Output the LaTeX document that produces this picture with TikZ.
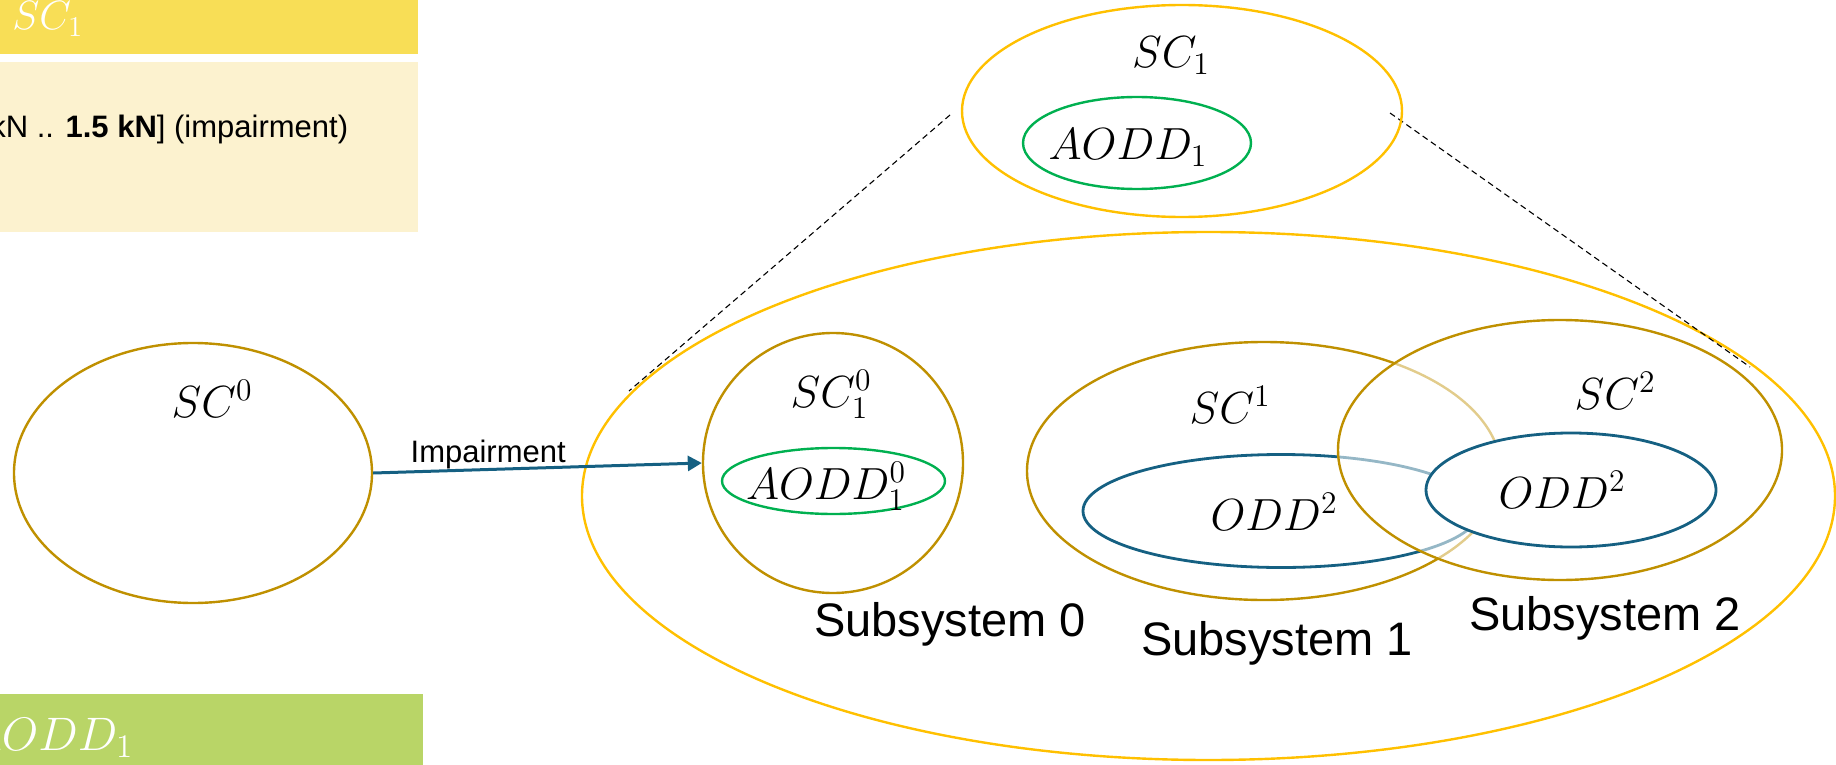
\RequirePackage{fix-cm}
\documentclass[tikz,border=0pt]{standalone}
\usepackage[no-math]{fontspec}
\newfontfamily\arialf{Liberation Sans}
\usetikzlibrary{shapes.geometric,arrows.meta}
\definecolor{gold}{HTML}{BF9000}
\definecolor{amber}{HTML}{FFC000}
\definecolor{odgreen}{HTML}{00B050}
\definecolor{odblue}{HTML}{156082}
\definecolor{hdryellow}{HTML}{F8DE56}
\definecolor{lightyellow}{HTML}{FCF2CF}
\definecolor{boxgreen}{HTML}{B9D567}
\tikzset{
  ell/.style={ellipse, draw, inner sep=0pt, line width=1.2pt},
  goldell/.style={ell, draw=gold},
  amberell/.style={ell, draw=amber},
  greenell/.style={ell, draw=odgreen},
  blueell/.style={ell, draw=odblue, line width=1.4pt},
  mlab/.style={font=\fontsize{22.5}{27}\selectfont, inner sep=0pt, anchor=base},
  sublab/.style={font=\arialf\fontsize{23.5}{28}\selectfont, inner sep=0pt, anchor=base},
  panel/.style={rectangle, inner sep=0pt, draw=none, anchor=north west},
  zoomline/.style={draw=black, line width=0.55pt, dash pattern=on 3pt off 2pt},
  impair/.style={draw=odblue, line width=1.5pt, -{Triangle[length=7pt,width=7.5pt]}}
}
\begin{document}
\begin{tikzpicture}[x=0.5pt,y=-0.5pt]
\useasboundingbox (0,0) rectangle (1836,765);
% left panels
\node[panel, fill=hdryellow, minimum width=209pt, minimum height=27pt] (hdr) at (0,0) {};
\node[panel, fill=lightyellow, minimum width=209pt, minimum height=85pt] (lbox) at (0,62) {};
\node[panel, fill=boxgreen, minimum width=211.5pt, minimum height=36pt] (gbox) at (0,694) {};
\node[inner sep=0pt, anchor=base west, text=white, font=\fontsize{20.5}{24}\selectfont] (hdrtxt) at (12,30) {$SC_1$};
\node[inner sep=0pt, anchor=base west, font=\arialf\fontsize{15.5}{18}\selectfont] (ltxt) at (-10,138) {kN .. \textbf{1.5 kN}] (impairment)};
\node[inner sep=0pt, anchor=base west, text=white, font=\fontsize{23.5}{28}\selectfont] (gtxt) at (-33,750) {$AODD_1$};

% big enclosing ellipse and zoom lines
\node[amberell, minimum width=626.5pt, minimum height=264pt] (big) at (1208.5,496) {};
\coordinate (dl1) at (950,115);
\coordinate (dl2) at (629,391);
\coordinate (dr1) at (1390,113);
\coordinate (dr2) at (1750,367);
\draw[zoomline] (dl1) -- (dl2);
\draw[zoomline] (dr1) -- (dr2);

% top SC_1
\node[amberell, minimum width=220pt, minimum height=106pt] (topsc) at (1182,111) {};
\node[greenell, minimum width=114pt, minimum height=46pt] (topaodd) at (1137,143) {};

% SC^0 and arrow
\node[goldell, minimum width=179pt, minimum height=130pt] (sc0) at (193,473) {};
\node[goldell, minimum width=130pt, minimum height=130pt] (sc01) at (833,463) {};
\node[greenell, minimum width=111.5pt, minimum height=33pt] (aodd01) at (833.5,481) {};
\draw[impair] (sc0.east) -- node[pos=0.35, anchor=base, yshift=3.5pt, inner sep=0pt, text=black, font=\arialf\fontsize{15.5}{18}\selectfont] (implab) {Impairment} (sc01.west);

% subsystems 1 and 2
\node[goldell, minimum width=237pt, minimum height=129pt] (sc1) at (1264,471) {};
\node[blueell, minimum width=198pt, minimum height=56.5pt] (oddl) at (1281,511) {};
\node[goldell, fill=white, fill opacity=0.55, minimum width=222pt, minimum height=130pt] (sc2) at (1560,450) {};
\node[blueell, fill=white, minimum width=145pt, minimum height=57pt] (oddr) at (1571,490) {};

% labels
\node[mlab] (lsc0) at (212,417) {$SC^0$};
\node[mlab] (lsc01) at (831,407) {$SC^0_1$};
\node[mlab] (laodd01) at (826,499) {$AODD^0_1$};
\node[mlab] (ltopsc) at (1171,68) {$SC_1$};
\node[mlab] (ltopaodd) at (1128,160) {$AODD_1$};
\node[mlab] (lsc1) at (1230,423) {$SC^1$};
\node[mlab] (loddl) at (1274,530) {$ODD^2$};
\node[mlab] (lsc2) at (1615,409) {$SC^2$};
\node[mlab] (loddr) at (1562,508) {$ODD^2$};
\node[sublab] (ss0) at (950,636) {Subsystem 0};
\node[sublab] (ss1) at (1277,655) {Subsystem 1};
\node[sublab] (ss2) at (1605,630) {Subsystem 2};
\end{tikzpicture}
\end{document}
